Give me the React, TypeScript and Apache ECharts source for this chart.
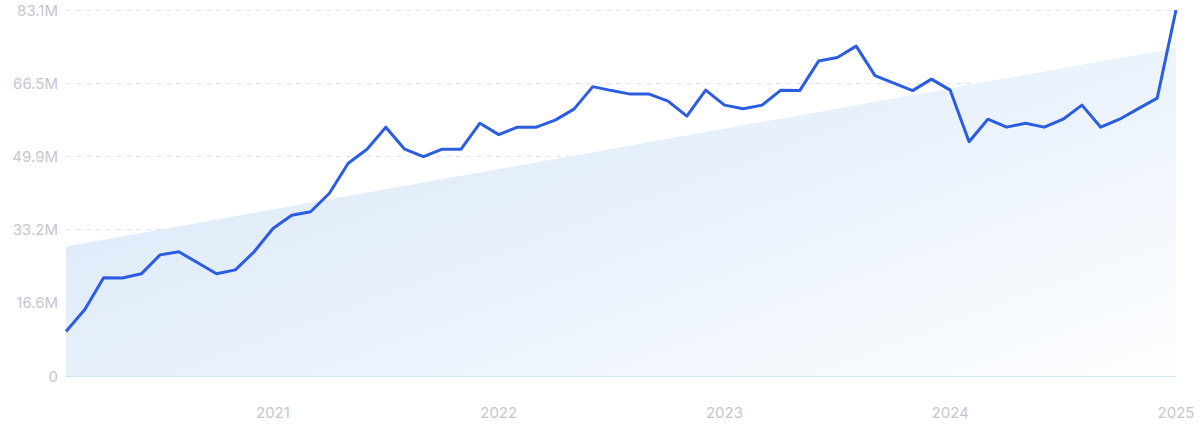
import React, { useEffect, useRef } from "react";
import * as echarts from "echarts";

const months: string[] = [
  "2020-02", "2020-03", "2020-04", "2020-05", "2020-06", "2020-07", "2020-08", "2020-09", "2020-10", "2020-11", "2020-12",
  "2021-01", "2021-02", "2021-03", "2021-04", "2021-05", "2021-06", "2021-07", "2021-08", "2021-09", "2021-10", "2021-11", "2021-12",
  "2022-01", "2022-02", "2022-03", "2022-04", "2022-05", "2022-06", "2022-07", "2022-08", "2022-09", "2022-10", "2022-11", "2022-12",
  "2023-01", "2023-02", "2023-03", "2023-04", "2023-05", "2023-06", "2023-07", "2023-08", "2023-09", "2023-10", "2023-11", "2023-12",
  "2024-01", "2024-02", "2024-03", "2024-04", "2024-05", "2024-06", "2024-07", "2024-08", "2024-09", "2024-10", "2024-11", "2024-12",
  "2025-01",
];

// values in millions
const volume: number[] = [
  10.1, 15.1, 22.3, 22.25, 23.2, 27.5, 28.2, 25.7, 23.2, 24.1, 28.2,
  33.5, 36.5, 37.3, 41.5, 48.3, 51.5, 56.5, 51.5, 49.8, 51.5, 51.5, 57.4,
  54.8, 56.5, 56.5, 58.1, 60.6, 65.7, 64.8, 64.0, 64.0, 62.4, 59.0, 64.9,
  61.5, 60.7, 61.5, 64.9, 64.8, 71.5, 72.3, 74.9, 68.2, 66.5, 64.8, 67.4,
  64.9, 53.2, 58.3, 56.5, 57.4, 56.5, 58.3, 61.5, 56.5, 58.3, 60.7, 63.1,
  83.1,
];

// trend line end points (millions)
const trendStart = 29.4;
const trendEnd = 74.5;

const yMax = 83.1;
const yInterval = 16.62;

export default function App() {
  const ref = useRef<HTMLDivElement>(null);
  useEffect(() => {
    if (!ref.current) return;
    const chart = echarts.init(ref.current, undefined, { renderer: "svg" });
    const textColor = "#c4c6ce";
    chart.setOption({
      animation: false,
      grid: { left: 66, right: 24, top: 10, bottom: 56 },
      xAxis: {
        type: "category",
        data: months,
        boundaryGap: false,
        axisLine: { show: true, lineStyle: { color: "#cde5fb", width: 1 } },
        axisTick: { show: false },
        splitLine: { show: false },
        axisLabel: {
          color: textColor,
          fontFamily: "Inter",
          fontSize: 15,
          margin: 29,
          interval: (_i: number, v: string) => v.endsWith("-01"),
          formatter: (v: string) => v.slice(0, 4),
        },
      },
      yAxis: {
        type: "value",
        min: 0,
        max: yMax,
        interval: yInterval,
        axisLine: { show: false },
        axisTick: { show: false },
        splitLine: { show: true, lineStyle: { color: "#dde8f7", type: [5, 5], width: 1 } },
        axisLabel: {
          color: textColor,
          fontFamily: "Inter",
          fontSize: 15,
          margin: 8,
          formatter: (v: number) => (v === 0 ? "0" : v.toFixed(1) + "M"),
        },
      },
      series: [
        {
          type: "line",
          data: [
            [months[0], trendStart],
            [months[months.length - 1], trendEnd],
          ],
          symbol: "none",
          lineStyle: { width: 0, opacity: 0 },
          areaStyle: {
            opacity: 1,
            color: new echarts.graphic.LinearGradient(0, 0.2, 1, 1, [
              { offset: 0, color: "#dae8f9" },
              { offset: 0.55, color: "#ecf3fc" },
              { offset: 1, color: "#fdfeff" },
            ]),
          },
          z: 1,
          silent: true,
        },
        {
          type: "line",
          data: volume,
          symbol: "none",
          lineStyle: { color: "#2b5de3", width: 3, join: "round" },
          z: 3,
        },
      ],
    });
    return () => chart.dispose();
  }, []);
  return (
    <div
      ref={ref}
      style={{ position: "fixed", left: 0, top: 0, width: 1200, height: 432, background: "#ffffff" }}
    />
  );
}
